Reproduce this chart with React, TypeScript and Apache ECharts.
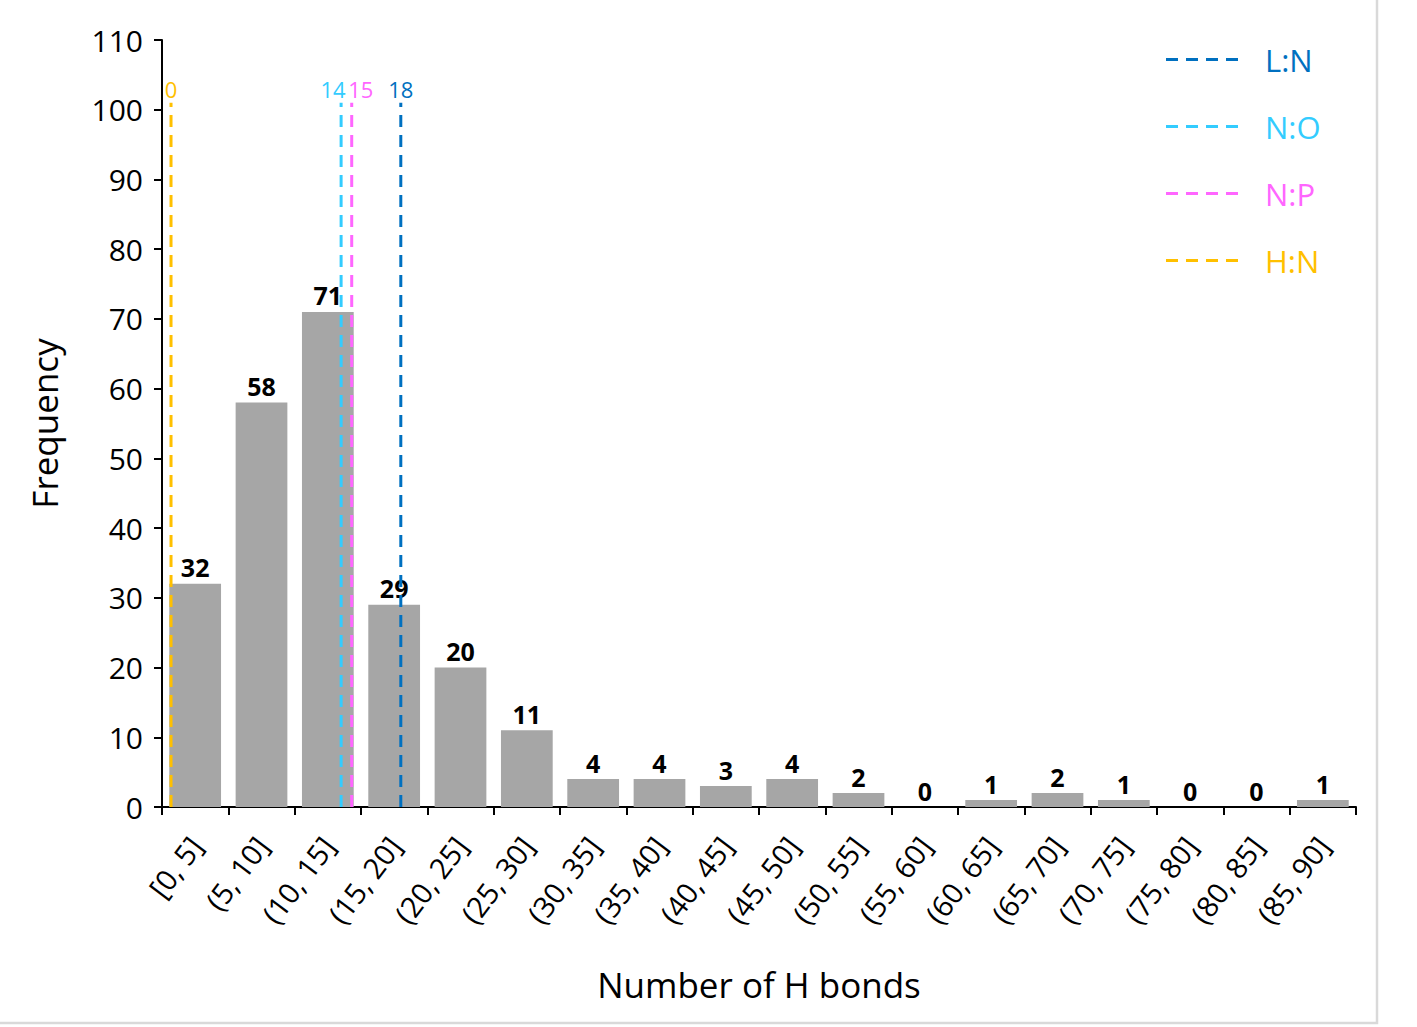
import React, { useEffect, useRef } from "react";
import * as echarts from "echarts";

const categories = [
  "[0, 5]", "(5, 10]", "(10, 15]", "(15, 20]", "(20, 25]", "(25, 30]",
  "(30, 35]", "(35, 40]", "(40, 45]", "(45, 50]", "(50, 55]", "(55, 60]",
  "(60, 65]", "(65, 70]", "(70, 75]", "(75, 80]", "(80, 85]", "(85, 90]",
];
const frequencies = [32, 58, 71, 29, 20, 11, 4, 4, 3, 4, 2, 0, 1, 2, 1, 0, 0, 1];

const refNames = ["L:N", "N:O", "N:P", "H:N"];
const refValues = ["18", "14", "15", "0"];
// horizontal position of each reference line on a 0–90 "bonds" scale
const refPositions = [18.0, 13.5, 14.3, 0.68];
const refColors = ["#0070C0", "#33CCFF", "#FF66FF", "#FFC000"];
const refTop = 101;

const yTicks = { min: 0, max: 110, interval: 10 };

const FONT = "'Open Sans', 'Noto Sans', sans-serif";
const DASH_ICON = "path://M0,0h12v3h-12z M20,0h12v3h-12z M40,0h12v3h-12z M60,0h12v3h-12z";
// horizontal nudges of the value labels above the lines (style only)
const labelNudge = [0, -8, 9, 0];

export default function App() {
  const ref = useRef<HTMLDivElement>(null);
  useEffect(() => {
    if (!ref.current) return;
    const chart = echarts.init(ref.current, null, { renderer: "svg" });
    const lineSeries = refNames.map((name, i) => ({
      name,
      type: "line",
      xAxisIndex: 1,
      yAxisIndex: 0,
      symbol: "circle",
      symbolSize: 0.01,
      showSymbol: true,
      silent: true,
      z: 5,
      lineStyle: { color: refColors[i], width: 3, type: [12, 8] },
      itemStyle: { color: refColors[i] },
      label: {
        show: true,
        position: "top",
        distance: 3,
        offset: [labelNudge[i], 0],
        formatter: (p: any) => (p.dataIndex === 1 ? refValues[i] : ""),
        color: refColors[i],
        fontSize: 22,
        fontFamily: FONT,
      },
      data: [
        [refPositions[i], 0],
        [refPositions[i], refTop],
      ],
    }));
    chart.setOption({
      animation: false,
      backgroundColor: "#ffffff",
      textStyle: { fontFamily: FONT },
      grid: { left: 162, right: 61, top: 40, bottom: 220, containLabel: false },
      legend: {
        orient: "vertical",
        left: 1161,
        top: 39,
        icon: DASH_ICON,
        itemWidth: 72,
        itemHeight: 3,
        itemGap: 36,
        textStyle: { fontSize: 31, fontFamily: FONT, padding: [0, 0, 0, 22] },
        data: refNames.map((n, i) => ({ name: n, textStyle: { color: refColors[i] } })),
      },
      xAxis: [
        {
          type: "category",
          data: categories,
          boundaryGap: true,
          axisLine: { lineStyle: { color: "#000", width: 2 } },
          axisTick: { show: true, length: 8, alignWithLabel: false, lineStyle: { color: "#000", width: 2 } },
          axisLabel: {
            rotate: 53,
            interval: 0,
            fontSize: 29,
            color: "#000",
            fontFamily: FONT,
            margin: 33,
          },
          name: "Number of H bonds",
          nameLocation: "middle",
          nameGap: 160,
          nameTextStyle: { fontSize: 35, color: "#000", fontFamily: FONT },
        },
        {
          type: "value",
          min: 0,
          max: 90,
          show: false,
        },
      ],
      yAxis: {
        type: "value",
        min: yTicks.min,
        max: yTicks.max,
        interval: yTicks.interval,
        splitLine: { show: false },
        axisLine: { show: true, lineStyle: { color: "#000", width: 2 } },
        axisTick: { show: true, length: 8, lineStyle: { color: "#000", width: 2 } },
        axisLabel: { fontSize: 30, color: "#000", fontFamily: FONT, margin: 19 },
        name: "Frequency",
        nameLocation: "middle",
        nameGap: 100,
        nameRotate: 90,
        nameTextStyle: { fontSize: 35, color: "#000", fontFamily: FONT },
      },
      graphic: [
        {
          type: "rect",
          silent: true,
          shape: { x: -2, y: -2, width: 1379, height: 1025 },
          style: { fill: "none", stroke: "#d9d9d9", lineWidth: 2.5 },
        },
      ],
      series: [
        {
          type: "bar",
          name: "Frequency",
          data: frequencies,
          barCategoryGap: "22%",
          itemStyle: { color: "#A6A6A6" },
          label: {
            show: true,
            position: "top",
            distance: 4,
            color: "#000",
            fontWeight: "bold",
            fontSize: 25,
            fontFamily: FONT,
          },
          z: 2,
        },
        ...lineSeries,
      ],
    });
    return () => chart.dispose();
  }, []);
  return (
    <div style={{ position: "fixed", left: 0, top: 0, width: 1417, height: 1027, background: "#fff" }}>
      <div ref={ref} style={{ width: 1417, height: 1027 }} />
    </div>
  );
}
